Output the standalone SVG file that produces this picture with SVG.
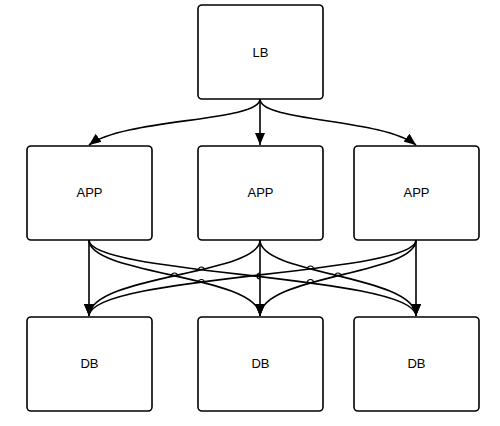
<svg xmlns="http://www.w3.org/2000/svg" width="500" height="426" viewBox="0 0 500 426">
<style>
.box{fill:#fff;stroke:#000;stroke-width:1.6}
.lbl{font-family:"Liberation Sans",Arial,sans-serif;font-size:13px;text-anchor:middle;fill:#000}
.e{fill:none;stroke:#000;stroke-width:1.6}
.hop{fill:none;stroke:#000;stroke-width:1.2}
</style>
<defs>
<marker id="ah" viewBox="0 0 12 10" refX="12" refY="5" markerWidth="12" markerHeight="10" markerUnits="userSpaceOnUse" orient="auto">
<path d="M0,0 L12,5 L0,10 Z" fill="#000"/>
</marker>
</defs>
<rect width="500" height="426" fill="#fff"/>
<g id="connectors">
<path class="e" marker-end="url(#ah)" d="M260,99 L260,145"/>
<path class="e" marker-end="url(#ah)" d="M260,99 C260,122 125,118 89,145"/>
<path class="e" marker-end="url(#ah)" d="M260,99 C260,122 381,118 416,145"/>
<path class="e" marker-end="url(#ah)" d="M89,240 L89,316"/>
<path class="e" marker-end="url(#ah)" d="M260,240 L260,316"/>
<path class="e" marker-end="url(#ah)" d="M416,240 L416,316"/>
<path class="e" marker-end="url(#ah)" d="M89,240 C89,275 260,275 260,316"/>
<path class="e" marker-end="url(#ah)" d="M89,240 C89,275 416,275 416,316"/>
<path class="e" marker-end="url(#ah)" d="M260,240 C260,275 89,275 89,316"/>
<path class="e" marker-end="url(#ah)" d="M260,240 C260,275 416,275 416,316"/>
<path class="e" marker-end="url(#ah)" d="M416,240 C416,275 260,275 260,316"/>
<path class="e" marker-end="url(#ah)" d="M416,240 C416,275 89,275 89,316"/>
<path class="hop" d="M171.5,276 A3,3 0 0 1 177.5,276"/>
<path class="hop" d="M198.5,270 A3,3 0 0 1 204.5,270"/>
<path class="hop" d="M198.5,282.5 A3,3 0 0 1 204.5,282.5"/>
<path class="hop" d="M260,273 A3,3 0 0 0 260,279"/>
<path class="hop" d="M307.5,269 A3,3 0 0 1 313.5,269"/>
<path class="hop" d="M307.5,282.5 A3,3 0 0 1 313.5,282.5"/>
<path class="hop" d="M335,276 A3,3 0 0 1 341,276"/>
</g>
<g id="lb"><rect class="box" x="198" y="5" width="125" height="94" rx="4"/><text class="lbl" x="260.5" y="56.5">LB</text></g>
<g id="app1"><rect class="box" x="27" y="146" width="125" height="94" rx="4"/><text class="lbl" x="89.5" y="197">APP</text></g>
<g id="app2"><rect class="box" x="198" y="146" width="125" height="94" rx="4"/><text class="lbl" x="260.5" y="197">APP</text></g>
<g id="app3"><rect class="box" x="354" y="146" width="125" height="94" rx="4"/><text class="lbl" x="416.5" y="197">APP</text></g>
<g id="db1"><rect class="box" x="27" y="317" width="125" height="94" rx="4"/><text class="lbl" x="89.5" y="367.5">DB</text></g>
<g id="db2"><rect class="box" x="198" y="317" width="125" height="94" rx="4"/><text class="lbl" x="260.5" y="367.5">DB</text></g>
<g id="db3"><rect class="box" x="354" y="317" width="125" height="94" rx="4"/><text class="lbl" x="416.5" y="367.5">DB</text></g>
</svg>
